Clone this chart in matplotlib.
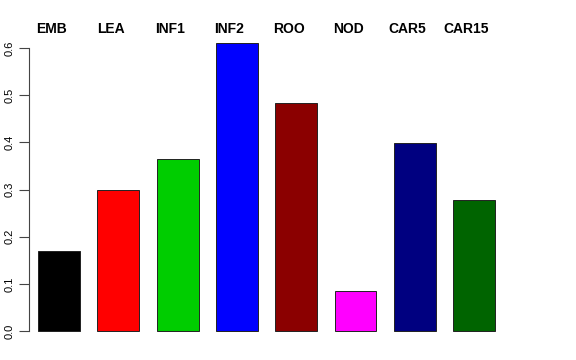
import matplotlib
matplotlib.use("Agg")
import matplotlib.pyplot as plt
import numpy as np

categories = ["EMB", "LEA", "INF1", "INF2", "ROO", "NOD", "CAR5", "CAR15"]
values = [0.170, 0.299, 0.365, 0.611, 0.484, 0.085, 0.399, 0.278]
colors = ["#000000", "#FF0000", "#00CD00", "#0000FF", "#8B0000", "#FF00FF", "#000080", "#006400"]
yticks = [0.0, 0.1, 0.2, 0.3, 0.4, 0.5, 0.6]

plt.rcParams['font.family'] = ['Liberation Sans', 'DejaVu Sans']

W, H = 576, 360
fig = plt.figure(figsize=(W / 100, H / 100), dpi=100)
left_px, right_px, top_px, bottom_px = 29, 547, 20, 345
ax = fig.add_axes([left_px / W, 1 - bottom_px / H, (right_px - left_px) / W, (bottom_px - top_px) / H])

x = np.arange(len(categories))
width = 0.708
ax.bar(x, values, width=width, color=colors, edgecolor="#222222", linewidth=0.7)

pitch = 59.3
ax.set_xlim((left_px - 59) / pitch, (right_px - 59) / pitch)
ax.set_ylim((331 - bottom_px) / 471.5, (331 - top_px) / 471.5)

for s in ["top", "right", "bottom"]:
    ax.spines[s].set_visible(False)
ax.spines["left"].set_bounds(0, 0.6)
ax.spines["left"].set_linewidth(0.8)
ax.spines["left"].set_color("#444444")
ax.set_xticks([])
ax.set_yticks(yticks)
ax.set_yticklabels([f"{v:.1f}" for v in yticks], rotation=90, va="center", fontsize=8)
ax.tick_params(axis="y", length=7, width=0.8, color="#444444", pad=3)

label_y = (331 - 29) / 471.5
for xi, name in zip(x, categories):
    ax.text(xi - 7.5 / pitch, label_y, name, ha="center", va="center",
            fontsize=10, fontweight="bold", clip_on=False)

fig.savefig("out.png", dpi=100)
